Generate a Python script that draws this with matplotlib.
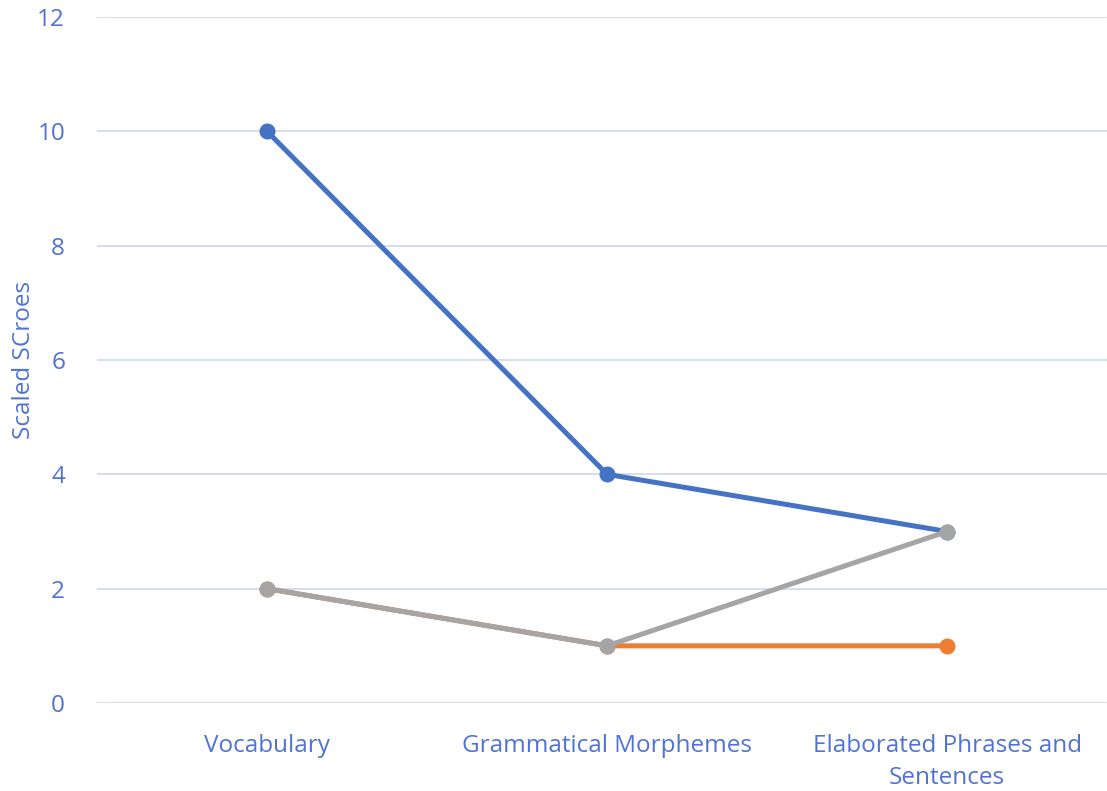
import matplotlib.pyplot as plt

categories = ['Vocabulary', 'Grammatical Morphemes', 'Elaborated Phrases and\nSentences']
series1 = [10, 4, 3]
series2 = [2, 1, 1]
series3 = [2, 1, 3]
yticks = [0, 2, 4, 6, 8, 10, 12]

text_col = '#4F73D4'
grid_col = '#D5DDF1'

plt.rcParams['font.family'] = ['Open Sans', 'DejaVu Sans']

fig = plt.figure(figsize=(11.07, 7.91), dpi=100)
ax = fig.add_axes([97/1107, 88/791, 1010/1107, 686/791])

x = range(len(categories))
for ys, c in [(series1, '#4472C4'), (series2, '#ED7D31'), (series3, '#A5A5A5')]:
    ax.plot(x, ys, color=c, lw=3.6, marker='o', ms=10.5, solid_capstyle='round', zorder=3)

ax.set_xlim(-0.5, 2.47)
ax.set_ylim(0, 12)
ax.set_yticks(yticks)
ax.set_xticks(list(x))
ax.set_xticklabels(categories, linespacing=1.45)
ax.grid(axis='y', color=grid_col, lw=1.4)
ax.set_axisbelow(True)
for s in ax.spines.values():
    s.set_visible(False)
ax.tick_params(length=0, labelsize=17.5, colors=text_col)
ax.tick_params(axis='x', pad=22)
ax.tick_params(axis='y', pad=23)
fig.text(24/1107, 1 - 360/791, 'Scaled SCroes', fontsize=17.5, color=text_col,
         rotation=90, ha='center', va='center')

fig.savefig('out.png', dpi=100)
